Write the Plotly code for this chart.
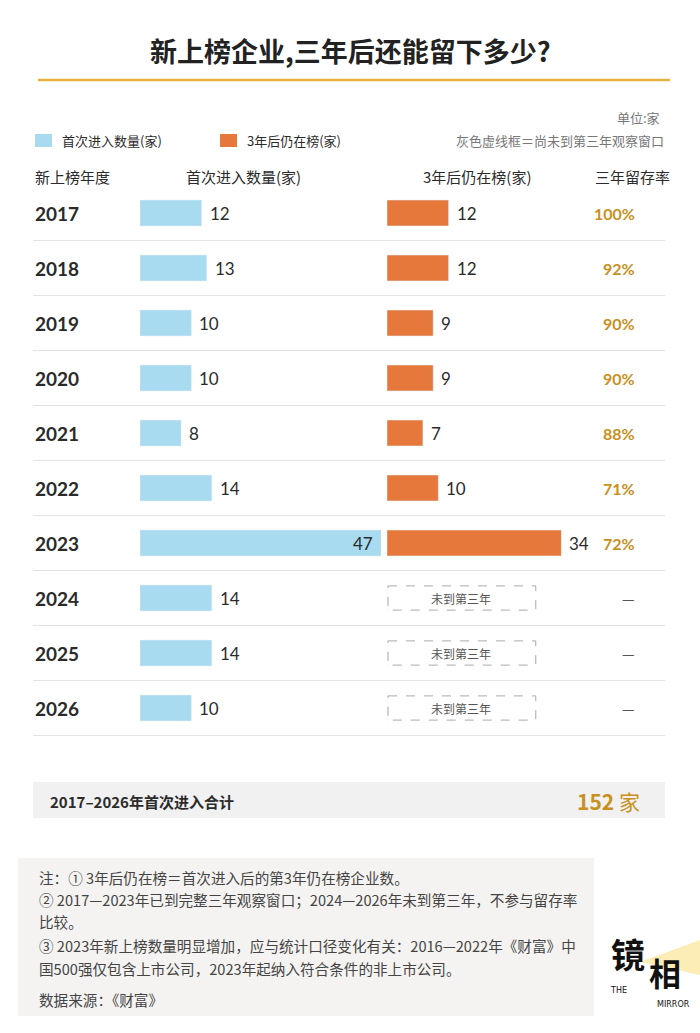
import plotly.graph_objects as go

years = ["2017","2018","2019","2020","2021","2022","2023","2024","2025","2026"]
first_entry = [12,13,10,10,8,14,47,14,14,10]
after3 = [12,12,9,9,7,10,34,None,None,None]
pending_label = "未到第三年"
pending_box = 29

BLUE = "#A8DAF0"; ORANGE = "#E5783A"; GOLD = "#C8901C"; DARK = "#2B2B2B"; GRAY = "#777777"
CJK = "Noto Sans CJK SC"
NUM = "Lato"
W, H = 700, 1033
ROW0, STEP = 213, 55
idx = list(range(len(years)))

def py(p):
    return 1 - p / H

fig = go.Figure()
fig.add_trace(go.Bar(x=first_entry, y=idx, orientation="h", marker_color=BLUE, width=0.47,
                     xaxis="x", yaxis="y", hoverinfo="skip"))
vals = [v if v is not None else 0 for v in after3]
fig.add_trace(go.Bar(x=vals, y=idx, orientation="h", marker_color=ORANGE, width=0.47,
                     xaxis="x2", yaxis="y", hoverinfo="skip"))

scale = 5.13
maxf = max(first_entry)
maxa = max(v for v in after3 if v is not None)
x1d = [140 / W, (140 + maxf * scale) / W]
x2d = [387 / W, (387 + maxa * scale) / W]
yr = [(H - ROW0) / STEP, -ROW0 / STEP]

shapes = []
ann = []
for i, y in enumerate(years):
    ann.append(dict(x=33 / W, y=i, xref="paper", yref="y", text=f"<b>{y}</b>", showarrow=False, xanchor="left",
                    font=dict(family=NUM, size=19, color=DARK)))
    inside = first_entry[i] == maxf
    ann.append(dict(x=first_entry[i], y=i, xref="x", yref="y", text=str(first_entry[i]), showarrow=False,
                    xanchor="right" if inside else "left", xshift=-6 if inside else 6,
                    font=dict(family=NUM, size=17, color=DARK)))
    if after3[i] is None:
        shapes.append(dict(type="rect", xref="x2", yref="y", x0=0.2, x1=pending_box, y0=i - 0.22, y1=i + 0.22,
                           line=dict(color="#AAAAAA", width=1, dash="dash"), fillcolor="rgba(0,0,0,0)"))
        ann.append(dict(x=pending_box / 2, y=i, xref="x2", yref="y", text=pending_label, showarrow=False,
                        font=dict(family=CJK, size=12, color="#555555")))
        ann.append(dict(x=637 / W, y=i, xref="paper", yref="y", text="—", showarrow=False,
                        font=dict(family=CJK, size=14, color="#555555")))
    else:
        ann.append(dict(x=after3[i], y=i, xref="x2", yref="y", text=str(after3[i]), showarrow=False,
                        xanchor="left", xshift=6, font=dict(family=NUM, size=17, color=DARK)))
        r = int(after3[i] / first_entry[i] * 100 + 0.5)
        ann.append(dict(x=637 / W, y=i, xref="paper", yref="y", text=f"<b>{r}%</b>", showarrow=False,
                        font=dict(family=NUM, size=16, color=GOLD)))
    shapes.append(dict(type="line", xref="paper", yref="y", x0=33 / W, x1=665 / W, y0=i + 0.5, y1=i + 0.5,
                       line=dict(color="#E3E3E3", width=1)))

def text(x, p, s, size=13, color=DARK, anchor="left", family=CJK, bold=False):
    if bold:
        s = f"<b>{s}</b>"
    ann.append(dict(x=x / W, y=py(p), xref="paper", yref="paper", text=s, showarrow=False, xanchor=anchor,
                    yanchor="middle", font=dict(family=family, size=size, color=color)))

text(350, 50, "新上榜企业,三年后还能留下多少?", 27, "#222222", "center", bold=True)
shapes.append(dict(type="line", xref="paper", yref="paper", x0=38 / W, x1=670 / W, y0=py(80), y1=py(80),
                   line=dict(color="#E8B33A", width=2.5)))
text(662, 118, "单位:家", 13, GRAY, "right")
shapes.append(dict(type="rect", xref="paper", yref="paper", x0=35 / W, x1=52 / W, y0=py(147), y1=py(134),
                   fillcolor=BLUE, line_width=0))
text(60, 141, "首次进入数量(家)", 13, DARK)
shapes.append(dict(type="rect", xref="paper", yref="paper", x0=220 / W, x1=237 / W, y0=py(147), y1=py(134),
                   fillcolor=ORANGE, line_width=0))
text(245, 141, "3年后仍在榜(家)", 13, DARK)
text(666, 141, "灰色虚线框＝尚未到第三年观察窗口", 13, GRAY, "right")
text(33, 176, "新上榜年度", 15, DARK)
text(243, 176, "首次进入数量(家)", 15, DARK, "center")
text(477, 176, "3年后仍在榜(家)", 15, DARK, "center")
text(632, 176, "三年留存率", 15, DARK, "center")

shapes.append(dict(type="rect", xref="paper", yref="paper", x0=33 / W, x1=665 / W, y0=py(818), y1=py(782),
                   fillcolor="#F1F1F1", line_width=0, layer="below"))
text(48, 801, "2017–2026年首次进入合计", 15, DARK, bold=True)
text(642, 801, f"<b>{sum(first_entry)}</b> 家", 21, GOLD, "right")

shapes.append(dict(type="rect", xref="paper", yref="paper", x0=18 / W, x1=594 / W, y0=py(1016), y1=py(858),
                   fillcolor="#F4F3F1", line_width=0, layer="below"))
notes = [(877, "注：① 3年后仍在榜＝首次进入后的第3年仍在榜企业数。"),
         (899, "② 2017—2023年已到完整三年观察窗口；2024—2026年未到第三年，不参与留存率"),
         (921, "比较。"),
         (945, "③ 2023年新上榜数量明显增加，应与统计口径变化有关：2016—2022年《财富》中"),
         (968, "国500强仅包含上市公司，2023年起纳入符合条件的非上市公司。"),
         (999, "数据来源：《财富》")]
for p, s in notes:
    text(37, p, s, 14.6, "#444444")

shapes.append(dict(type="path", xref="paper", yref="paper",
                   path=f"M {640/W} {py(962)} L {700/W} {py(940)} L {700/W} {py(975)} Z",
                   fillcolor="rgba(250,220,120,0.55)", line_width=0))
text(628, 953, "<b>镜</b>", 34, "#111111", "center")
text(665, 972, "<b>相</b>", 32, "#111111", "center")
text(608, 990, "THE", 8, "#111111", "left", family="DejaVu Sans")
text(692, 1004, "MIRROR", 8, "#111111", "right", family="DejaVu Sans")

fig.update_layout(width=W, height=H, margin=dict(l=0, r=0, t=0, b=0), paper_bgcolor="white",
                  plot_bgcolor="rgba(0,0,0,0)", showlegend=False, shapes=shapes, annotations=ann,
                  xaxis=dict(domain=x1d, range=[0, maxf], visible=False),
                  xaxis2=dict(domain=x2d, range=[0, maxa], visible=False, anchor="y"),
                  yaxis=dict(domain=[0, 1], range=yr, visible=False))
fig.write_html("out.html", config={"displayModeBar": False},
               post_script="document.body.style.margin='0';document.body.style.overflow='hidden';")
